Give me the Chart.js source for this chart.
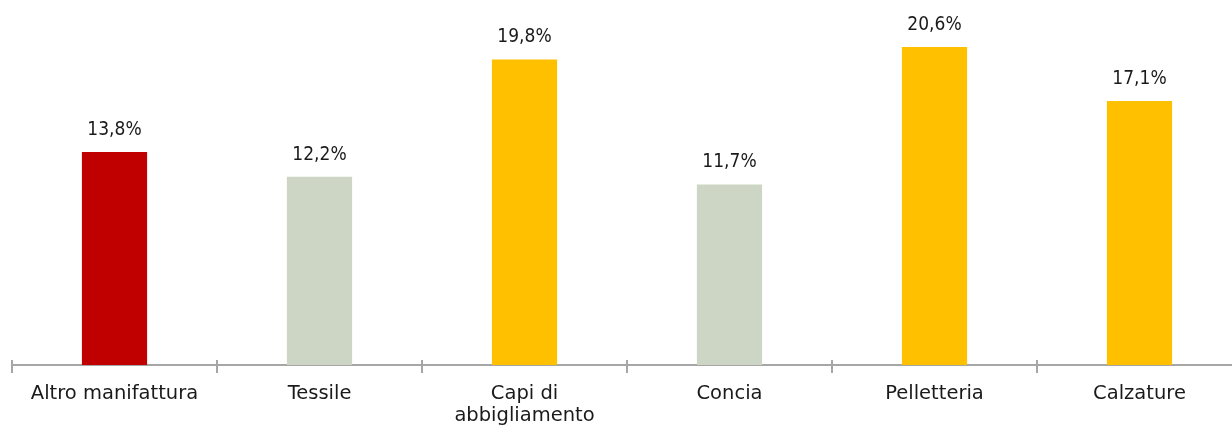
<!DOCTYPE html>
<html>
<head>
<meta charset="utf-8">
<script src="https://cdn.jsdelivr.net/npm/chart.js@4/dist/chart.umd.min.js"></script>
<style>
  html, body { margin: 0; padding: 0; background: #fff; overflow: hidden; }
  #wrap { width: 1232px; height: 427px; overflow: hidden; }
</style>
</head>
<body>
<div id="wrap"><canvas id="myChart" width="1250" height="427"></canvas></div>
<script>
const categories = ['Altro manifattura', 'Tessile', ['Capi di', 'abbigliamento'], 'Concia', 'Pelletteria', 'Calzature'];
const quota = [13.8, 12.2, 19.8, 11.7, 20.6, 17.1];
const barColors = ['#C00000', '#CDD5C4', '#FFC000', '#CDD5C4', '#FFC000', '#FFC000'];

const labelFont = '"DejaVu Sans Condensed", "DejaVu Sans", sans-serif';
const tickFont = '"DejaVu Sans", sans-serif';
const axisGrey = '#A6A6A6';

// value labels above each bar, Italian decimal comma
const valueLabels = {
    id: 'valueLabels',
    afterDatasetsDraw(chart) {
        const c = chart.ctx;
        const meta = chart.getDatasetMeta(0);
        c.save();
        c.font = '19px ' + labelFont;
        c.fillStyle = '#1a1a1a';
        c.textAlign = 'center';
        c.textBaseline = 'middle';
        meta.data.forEach((bar, i) => {
            const txt = quota[i].toFixed(1).replace('.', ',') + '%';
            c.fillText(txt, bar.x, bar.y - 22);
        });
        c.restore();
    }
};

// tick marks between categories, crossing the axis line
const categoryTicks = {
    id: 'categoryTicks',
    afterDraw(chart) {
        const x = chart.scales.x;
        const c = chart.ctx;
        const y = chart.chartArea.bottom;
        const step = x.getPixelForValue(1) - x.getPixelForValue(0);
        c.save();
        c.strokeStyle = axisGrey;
        c.lineWidth = 2;
        c.beginPath();
        for (let i = 0; i <= categories.length; i++) {
            const px = Math.round(x.getPixelForValue(0) - step / 2 + i * step);
            c.moveTo(px, y - 5);
            c.lineTo(px, y + 8);
        }
        c.stroke();
        c.restore();
    }
};

const ctx = document.getElementById('myChart');

new Chart(ctx, {
    type: 'bar',
    data: {
        labels: categories,
        datasets: [{
            data: quota,
            backgroundColor: barColors,
            borderWidth: 0,
            categoryPercentage: 1,
            barPercentage: 0.318
        }]
    },
    options: {
        responsive: false,
        animation: false,
        layout: {
            padding: { top: 10, left: 12, right: 8, bottom: 0 }
        },
        plugins: {
            legend: { display: false },
            tooltip: { enabled: false }
        },
        scales: {
            y: {
                display: false,
                min: 0,
                max: 23
            },
            x: {
                afterFit(scale) { scale.height = 62; },
                grid: { display: false, drawTicks: false },
                border: { display: true, color: axisGrey, width: 2 },
                ticks: {
                    color: '#1a1a1a',
                    padding: 18,
                    maxRotation: 0,
                    autoSkip: false,
                    font: { family: tickFont, size: 19.5, lineHeight: 1.13 }
                }
            }
        }
    },
    plugins: [valueLabels, categoryTicks]
});
</script>
</body>
</html>
